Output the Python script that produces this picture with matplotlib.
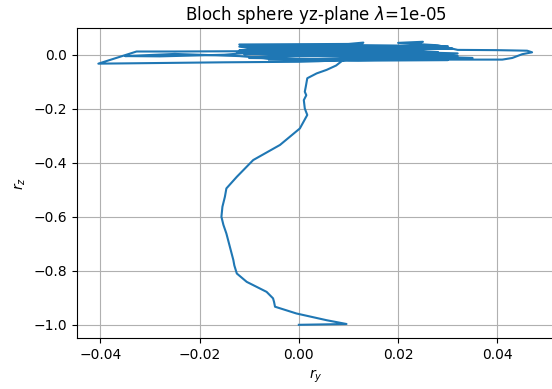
import matplotlib
matplotlib.use("Agg")
import matplotlib.pyplot as plt

lam = "1e-05"

# rising part of the trajectory, from the south pole up to the equator
ry_rise = [0.0, 0.0096, 0.0056, -0.0005, -0.0048, -0.0050, -0.0052, -0.0065,
           -0.0105, -0.0125, -0.0130, -0.0132, -0.0139, -0.0146, -0.0152, -0.0156,
           -0.0154, -0.0149, -0.0146, -0.0125, -0.0092, -0.0038, 0.0002, 0.0017,
           0.0012, 0.0010, 0.0015, 0.0012, 0.0014, 0.0017, 0.0036, 0.0056, 0.0075, 0.0089]
rz_rise = [-1.0, -0.997, -0.983, -0.958, -0.933, -0.915, -0.902, -0.878,
           -0.841, -0.810, -0.780, -0.760, -0.711, -0.662, -0.630, -0.600,
           -0.563, -0.526, -0.495, -0.452, -0.390, -0.334, -0.273, -0.223,
           -0.199, -0.168, -0.150, -0.137, -0.118, -0.087, -0.069, -0.056, -0.040, -0.020]

# wandering around the equator
ry_top = [0.015, 0.025, 0.035, 0.020, 0.005, -0.010, -0.0125,
          0.000, 0.012, 0.013, 0.010, -0.012, -0.005,
          0.010, 0.022, 0.025, 0.020, 0.028,
          0.032, 0.040, 0.046, 0.047, 0.045, 0.044, 0.043, 0.041, 0.026, 0.010,
          -0.005, -0.012, -0.025, -0.035, -0.028, -0.015, -0.005,
          0.005, 0.018, 0.028, 0.020, 0.005, -0.012, -0.025, -0.0327,
          -0.0404, -0.030, -0.015, 0.000, 0.004,
          0.015, 0.030, 0.020, 0.008, -0.008, -0.012, 0.002, 0.015, 0.030,
          0.020, 0.005, -0.010, 0.000, 0.015, 0.025, 0.032, 0.018, 0.000,
          -0.010, 0.005, 0.010,
          0.030, 0.010, -0.010, 0.005, 0.025, 0.031, 0.012, -0.008, -0.012,
          0.004, 0.020, 0.028, 0.015, -0.005, -0.011, 0.006, 0.024, 0.032,
          0.018, 0.000, -0.010, 0.008, 0.022, 0.030, 0.012, -0.006]
rz_top = [-0.012, -0.008, -0.012, -0.010, -0.003, 0.005, 0.010,
          0.020, 0.030, 0.045, 0.040, 0.038, 0.030,
          0.025, 0.030, 0.048, 0.044, 0.035,
          0.018, 0.017, 0.015, 0.009, 0.002, -0.005, -0.012, -0.018, -0.018, -0.020,
          -0.015, -0.005, 0.003, -0.005, -0.006, 0.000, 0.015,
          0.022, 0.018, 0.010, 0.005, 0.010, 0.013, 0.012, 0.012,
          -0.033, -0.031, -0.028, -0.026, -0.024,
          -0.015, -0.015, -0.005, 0.005, 0.020, 0.030, 0.035, 0.028, 0.025,
          0.020, 0.002, -0.010, -0.018, -0.010, 0.000, 0.005, 0.012, 0.025,
          0.015, 0.010, 0.002,
          0.032, 0.036, 0.030, 0.026, 0.028, 0.022, 0.018, 0.022, 0.016,
          0.012, 0.016, 0.008, 0.004, 0.008, 0.002, -0.002, 0.004, -0.004,
          -0.008, -0.004, -0.012, -0.016, -0.010, -0.020, -0.022, -0.018]

ry = ry_rise + ry_top
rz = rz_rise + rz_top

fig = plt.figure(figsize=(5.52, 3.89), dpi=100)
ax = fig.add_axes([0.1395, 0.131, 0.864, 0.797])
ax.plot(ry, rz)
ax.set_xlim(-0.0447, 0.0514)
ax.set_ylim(-1.049, 0.099)
ax.set_xlabel('$r_y$')
ax.set_ylabel('$r_z$')
ax.set_title(f"Bloch sphere yz-plane $\\lambda$={lam}")
ax.grid(True)
fig.savefig("out.png", dpi=100)
